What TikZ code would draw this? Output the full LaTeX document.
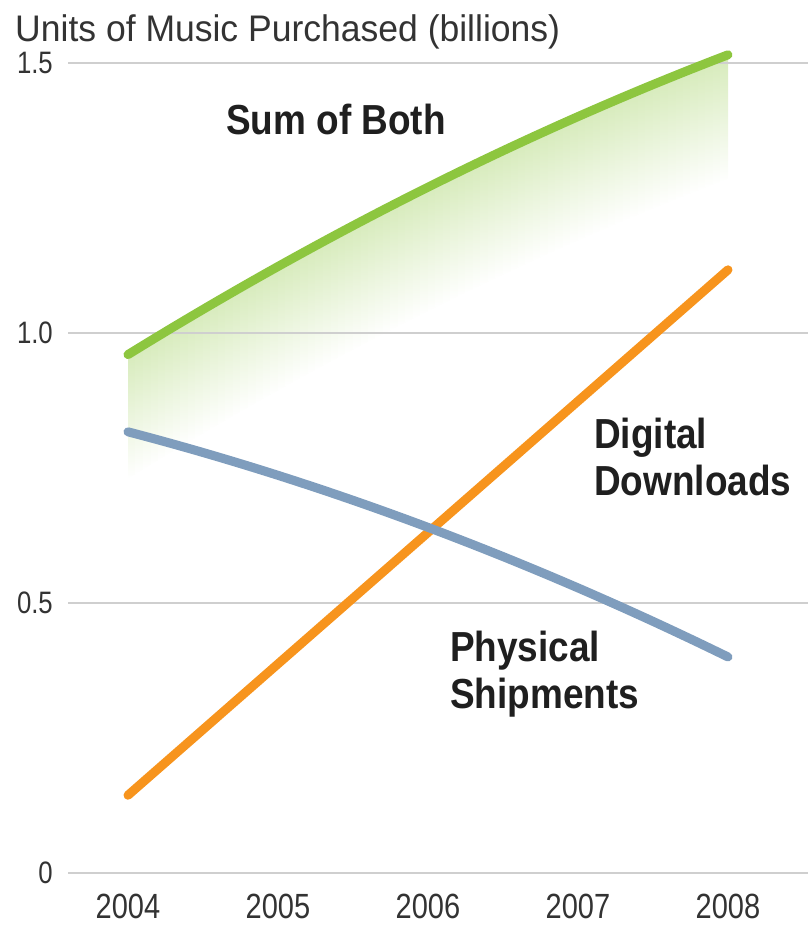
\documentclass[tikz,border=0pt]{standalone}
\usepackage{fontspec}
\setmainfont{Liberation Sans}[FakeStretch=0.83]
\newfontfamily\titlefont{Liberation Sans}[FakeStretch=0.96]
\newfontfamily\labelfont{Liberation Sans}[FakeStretch=0.88]
\usepackage{tikz}
\usetikzlibrary{positioning}
\definecolor{SumGreen}{HTML}{8DC63F}
\definecolor{DigitalOrange}{HTML}{F7941D}
\definecolor{PhysicalBlue}{HTML}{7F9DBD}
\definecolor{GridGray}{HTML}{CFCFCF}
\definecolor{TextGray}{HTML}{333333}
\tikzset{
  % Line styles
  gridline/.style={draw=GridGray, line width=2pt},
  seriesline/.style={line width=9pt, line cap=round},
  % Text styles
  ticklabel/.style={anchor=east, inner sep=0pt, text=TextGray, font=\fontsize{31}{31}\selectfont},
  yearlabel/.style={anchor=base, inner sep=0pt, text=TextGray, font=\fontsize{35}{35}\selectfont},
  titlelabel/.style={anchor=base west, inner sep=0pt, text=TextGray, font=\titlefont\fontsize{37}{37}\selectfont},
  serieslabel/.style={inner sep=0pt, align=left, text=black!88, font=\labelfont\bfseries\fontsize{42}{47}\selectfont}
}

\begin{document}
\begin{tikzpicture}[x=150pt, y=540pt,
  declare function={
    sumf(\t)=0.96+0.17125*\t-0.008125*\t*\t;
    physf(\t)=0.817-0.07275*\t-0.007875*\t*\t;
    digf(\t)=0.144+0.24325*\t;
  }]
  \useasboundingbox (-128pt,-53pt) rectangle (679pt,873pt);

  % Soft fill under the sum curve
  \foreach \i in {0,...,79} {
    \pgfmathsetmacro{\xa}{\i*0.05}
    \pgfmathsetmacro{\xb}{min(\xa+0.052,4)}
    \shade[top color=SumGreen!36, bottom color=white]
      (\xa,{sumf(\xa)}) -- (\xb,{sumf(\xb)}) -- (\xb,{sumf(\xb)-0.23}) -- (\xa,{sumf(\xa)-0.23}) -- cycle;
  }

  % Grid and axis labels
  \foreach \v/\lab [count=\k] in {0/0, 0.5/0.5, 1/1.0, 1.5/1.5} {
    \draw[gridline] (-0.4,\v) -- (4.53,\v);
    \node[ticklabel] (ytick\k) at (-0.5,\v) {\lab};
  }
  \foreach \yr [count=\k from 0] in {2004,...,2008}
    \node[yearlabel] (year\yr) at (\k,-0.085) {\yr};

  \node[titlelabel] (title) at (-0.753,1.5407) {Units of Music Purchased (billions)};

  % Series
  \draw[seriesline, DigitalOrange] (0,{digf(0)}) -- (4,{digf(4)});
  \draw[seriesline, PhysicalBlue] plot[domain=0:4, samples=41, smooth] (\x,{physf(\x)});
  \draw[seriesline, SumGreen] plot[domain=0:4, samples=41, smooth] (\x,{sumf(\x)});

  % Series labels
  \node[serieslabel, anchor=base west] (sumlabel) at (0.6533,1.3667) {Sum of Both};
  \node[serieslabel, anchor=north west] (digitallabel) at (3.1067,0.8426) {Digital\\Downloads};
  \node[serieslabel, anchor=north west] (physicallabel) at (2.1467,0.4481) {Physical\\Shipments};
\end{tikzpicture}
\end{document}
